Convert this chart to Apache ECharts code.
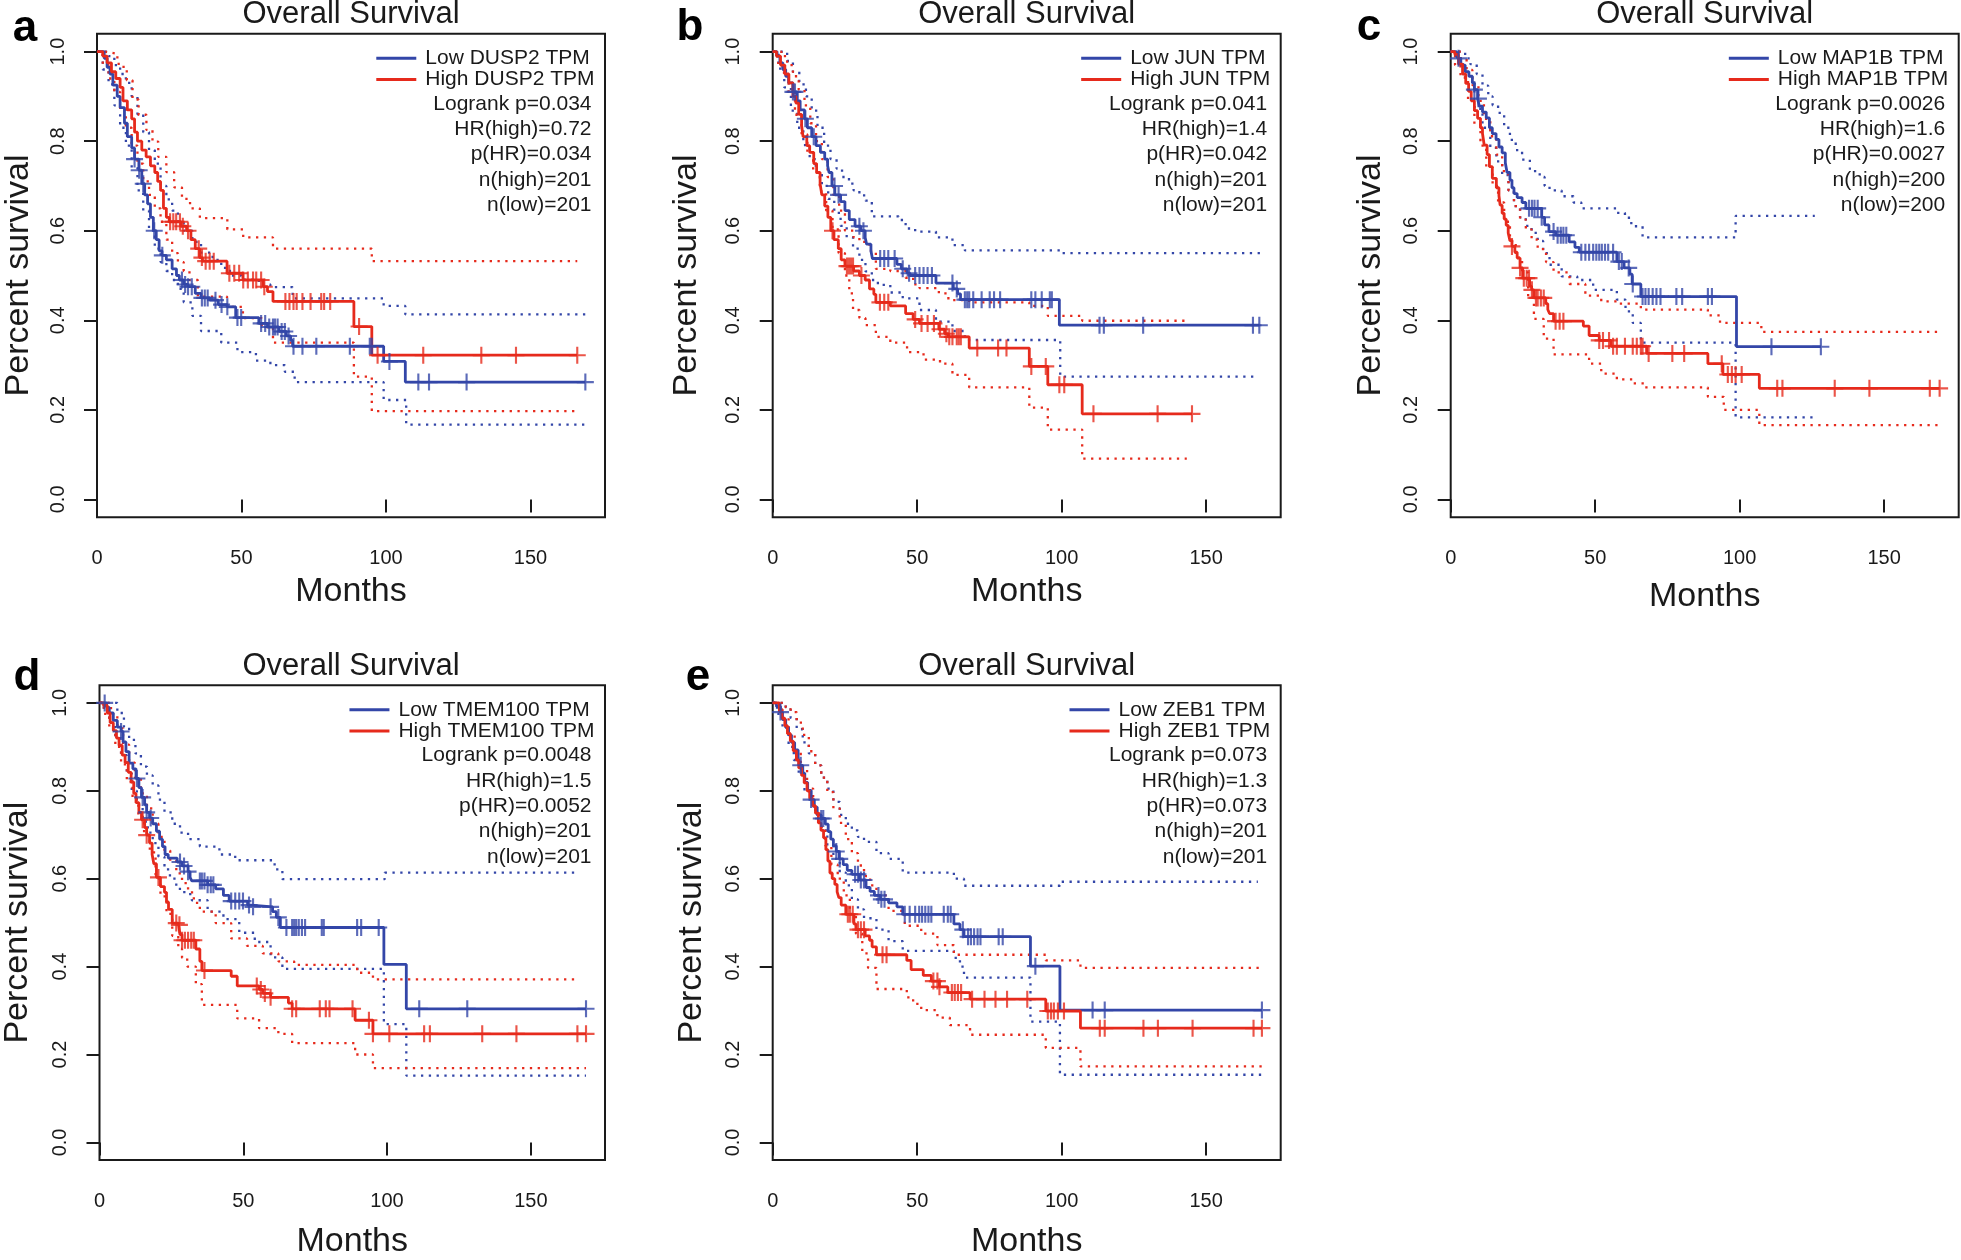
<!DOCTYPE html>
<html><head><meta charset="utf-8">
<script src="https://cdn.jsdelivr.net/npm/echarts@6/dist/echarts.min.js"></script>
<style>html,body{margin:0;padding:0;background:#fff}#c{width:1961px;height:1260px}</style>
</head><body><div id="c"></div><script>
// ---------------- DATA ----------------
const letters = ['a','b','c','d','e'];
const genes = ['DUSP2','JUN','MAP1B','TMEM100','ZEB1'];
const xTicks = [0,50,100,150];
const yTicks = [0,0.2,0.4,0.6,0.8,1.0];

const aStats = ['Logrank p=0.034','HR(high)=0.72','p(HR)=0.034','n(high)=201','n(low)=201'];
const bStats = ['Logrank p=0.041','HR(high)=1.4','p(HR)=0.042','n(high)=201','n(low)=201'];
const cStats = ['Logrank p=0.0026','HR(high)=1.6','p(HR)=0.0027','n(high)=200','n(low)=200'];
const dStats = ['Logrank p=0.0048','HR(high)=1.5','p(HR)=0.0052','n(high)=201','n(low)=201'];
const eStats = ['Logrank p=0.073','HR(high)=1.3','p(HR)=0.073','n(high)=201','n(low)=201'];

// Panel a  (DUSP2)
const aLow = [[0,1],[2.5,0.985],[3.5,0.965],[4.5,0.95],[5.5,0.925],[7,0.9],[8,0.875],[9.5,0.84],[10.5,0.81],[12,0.785],[13,0.76],[14.5,0.735],[15.5,0.705],[16.5,0.68],[17.5,0.66],[18.5,0.63],[19.5,0.6],[20.5,0.58],[21.5,0.555],[22.5,0.545],[24,0.535],[26,0.515],[27.5,0.5],[28.5,0.49],[30,0.48],[31.5,0.475],[34,0.46],[36,0.45],[39,0.445],[42,0.435],[45,0.43],[48,0.406],[56,0.393],[59,0.385],[63,0.375],[65.5,0.365],[67,0.355],[67.7,0.342],[99.2,0.308],[106.7,0.262],[169,0.262]];
const aHigh = [[0,1],[2,0.99],[3.5,0.975],[5,0.955],[6.5,0.94],[8,0.92],[9,0.89],[10.5,0.87],[12,0.85],[13,0.82],[14,0.8],[15.5,0.78],[17,0.765],[18.5,0.745],[20,0.73],[21,0.71],[22,0.69],[23,0.65],[24,0.63],[25,0.62],[29,0.61],[31,0.6],[32.5,0.58],[34,0.56],[35.5,0.54],[36.5,0.532],[45,0.505],[50.5,0.49],[57.5,0.475],[59,0.464],[60.9,0.442],[88.9,0.386],[95.1,0.322],[166.2,0.322]];
const aLowUp = [[0,1],[4,0.99],[6,0.97],[8,0.95],[10,0.93],[12,0.9],[14,0.86],[16,0.82],[18,0.78],[20,0.75],[22,0.7],[24,0.67],[26,0.645],[28,0.62],[30,0.6],[33,0.575],[36,0.551],[40,0.535],[43,0.517],[46,0.5],[50,0.491],[56,0.48],[60,0.474],[67.7,0.449],[99.2,0.432],[106.7,0.413],[169,0.413]];
const aLowLo = [[0,1],[2,0.96],[4,0.927],[6,0.88],[8,0.83],[10,0.79],[12,0.74],[14,0.69],[16,0.645],[18,0.6],[20,0.56],[22,0.53],[24,0.51],[26,0.49],[28,0.47],[30,0.44],[33,0.41],[36,0.376],[43,0.35],[48.6,0.329],[55,0.31],[60,0.3],[65,0.285],[68.4,0.262],[99.2,0.222],[107,0.167],[169,0.167]];
const aHighUp = [[0,1],[2.7,0.996],[6.2,0.987],[7.5,0.966],[10.3,0.936],[12.3,0.893],[14.4,0.859],[17.1,0.825],[19.2,0.799],[21.2,0.765],[24,0.731],[26.7,0.697],[29.4,0.671],[32.2,0.65],[35.6,0.628],[45.1,0.603],[50.6,0.585],[60.9,0.56],[95.1,0.532],[166.2,0.532]];
const aHighLo = [[0,1],[2,0.97],[4,0.94],[6,0.91],[8,0.87],[10,0.83],[12,0.79],[14,0.75],[16,0.71],[18,0.68],[20,0.65],[22,0.62],[24,0.58],[26,0.55],[28,0.53],[30,0.51],[32,0.49],[34.9,0.453],[45,0.43],[50.5,0.405],[57,0.385],[60.9,0.35],[88.9,0.274],[95.1,0.197],[166.2,0.197]];
const aLowCens = [13,14.6,16,19.8,22.6,29.4,30.5,31.5,32.8,36.3,37.3,38.3,41,43.1,45.1,48.6,49.9,56.8,58.2,59.6,60.9,61.6,62.5,63.9,65,66.3,68,71.1,75.9,87.5,94.4,95.1,101.2,111.2,114.9,127.9,169];
const aHighCens = [25.3,26.4,27.4,28.7,29.7,31.5,35.2,36.3,37.6,39,40.4,45.8,47.5,49.2,50.6,52.2,54,55.1,56.8,57.9,65.2,66.6,68,69.1,71.1,73.9,77.6,78.6,80.7,90.7,97.1,112.9,133,145,166.2];

// Panel b  (JUN)
const bLow = [[0,1],[1.5,0.99],[2.5,0.975],[3.5,0.96],[4.5,0.945],[5.5,0.93],[7,0.91],[8.5,0.89],[9.5,0.87],[11,0.85],[12,0.83],[13.5,0.81],[15,0.79],[16.5,0.775],[18,0.76],[19,0.745],[19.5,0.73],[20.5,0.7],[21.5,0.68],[23.5,0.665],[25,0.645],[26.5,0.625],[28.5,0.61],[30.5,0.6],[32,0.585],[32.5,0.57],[34,0.555],[34.5,0.538],[43,0.525],[44.5,0.515],[46.5,0.505],[47.5,0.5],[56.5,0.483],[62.5,0.47],[64,0.459],[65,0.446],[99.2,0.389],[168.4,0.389]];
const bHigh = [[0,1],[1.3,0.99],[2.7,0.97],[4.2,0.95],[5.6,0.93],[7,0.9],[8,0.885],[9,0.86],[10,0.835],[10.5,0.81],[11.8,0.79],[12.8,0.775],[14.2,0.75],[15.2,0.73],[16.4,0.705],[17,0.68],[18,0.655],[19.1,0.63],[20.1,0.6],[21.2,0.58],[22.7,0.56],[23.7,0.535],[25,0.521],[28,0.51],[30,0.5],[32,0.49],[33.5,0.47],[35,0.458],[35.7,0.44],[40.7,0.432],[46,0.415],[48.6,0.402],[50.8,0.393],[57.5,0.38],[59.5,0.37],[60.8,0.363],[68,0.338],[88.8,0.297],[95.2,0.256],[107.1,0.191],[145.1,0.191]];
const bLowUp = [[0,1],[2,1.0],[5,0.979],[7,0.955],[9.2,0.927],[11.5,0.9],[13.5,0.868],[15.5,0.83],[17.8,0.79],[20,0.76],[22.1,0.739],[24,0.72],[26.4,0.705],[28,0.69],[30,0.679],[32.1,0.667],[34.3,0.632],[43.6,0.624],[46,0.605],[49.3,0.598],[56.5,0.585],[62.2,0.568],[66.5,0.556],[99.5,0.55],[169.1,0.55]];
const bLowLo = [[0,1],[2,0.962],[4,0.92],[6.3,0.868],[8.5,0.83],[10.6,0.791],[12.8,0.76],[14.9,0.731],[17,0.7],[19.2,0.671],[21.3,0.64],[23.5,0.611],[25.6,0.585],[27.8,0.56],[30,0.535],[32.1,0.509],[34.3,0.49],[36.4,0.479],[40.7,0.462],[45,0.449],[50.8,0.423],[56.5,0.397],[62.2,0.376],[66.5,0.356],[99.5,0.274],[166.9,0.274]];
const bHighUp = [[0,1],[1.5,1.0],[3,0.99],[5,0.97],[7,0.945],[9,0.915],[11,0.88],[13,0.84],[15,0.8],[17,0.76],[19,0.72],[21,0.68],[23,0.645],[25,0.6],[28,0.585],[30,0.575],[33.5,0.555],[35.7,0.515],[40.7,0.51],[46,0.495],[48.6,0.48],[50.8,0.472],[57.5,0.46],[60.8,0.445],[68,0.44],[88.8,0.432],[95.2,0.41],[107.1,0.399],[143.3,0.399]];
const bHighLo = [[0,1],[1.5,0.975],[3.4,0.953],[5.5,0.91],[7.7,0.859],[10,0.815],[12,0.774],[14,0.73],[16.3,0.688],[18.5,0.645],[20.7,0.603],[22.8,0.55],[25,0.5],[26.5,0.46],[27.8,0.423],[30,0.405],[32.1,0.389],[35.7,0.363],[40.7,0.35],[46.5,0.329],[52.2,0.312],[57.9,0.303],[62.2,0.278],[68,0.25],[88.8,0.205],[95.2,0.156],[107.1,0.091],[143.3,0.091]];
const bLowCens = [7,7.7,11.3,14.2,21.4,22.8,30,31.4,37.2,38.6,40,42.2,45,47.2,49.3,50.8,52.2,53.6,55.1,62.2,63.7,66.5,67.3,68,69.4,72.3,75.1,76.6,78.7,89.5,90.9,93.1,95.9,96.6,113.1,114.6,128.2,166.2,168.4];
const bHighCens = [20.7,25.7,26.4,27.1,27.8,30.7,37.1,38.6,40,49.3,51.5,53.6,55.8,57.9,60.1,61.1,62.2,63.7,64.4,65.1,70.8,78,80.9,89.5,94.5,99.2,100.9,111,133.2,145.1];

// Panel c  (MAP1B)
const cLow = [[0,1],[2,0.99],[2.5,0.985],[3.5,0.97],[5,0.955],[6.3,0.945],[7.5,0.93],[8.2,0.915],[9.3,0.895],[9.9,0.878],[11,0.865],[12.3,0.852],[13.4,0.83],[14.4,0.817],[15.7,0.804],[16.7,0.787],[17.8,0.774],[18.9,0.752],[19.5,0.73],[20.5,0.713],[21.2,0.696],[21.9,0.683],[23,0.674],[24.7,0.663],[26,0.65],[31.5,0.63],[32.5,0.613],[34,0.598],[36.3,0.59],[41,0.575],[43,0.563],[44.5,0.552],[57.5,0.531],[60,0.517],[62,0.503],[62.8,0.481],[65.8,0.453],[98.9,0.341],[128.1,0.341]];
const cHigh = [[0,1],[1.4,0.994],[2.7,0.972],[4.1,0.95],[5.2,0.929],[6.2,0.911],[7.1,0.89],[8.2,0.868],[9.3,0.851],[10.3,0.83],[11,0.817],[11.6,0.791],[12.6,0.77],[13.4,0.743],[14.4,0.717],[15.8,0.696],[16.7,0.678],[17.1,0.657],[17.8,0.639],[18.5,0.626],[19.2,0.612],[19.9,0.595],[20.5,0.578],[21.2,0.565],[22.2,0.552],[23,0.539],[24,0.517],[24.9,0.494],[27.3,0.476],[28,0.468],[28.8,0.45],[32.9,0.437],[33.6,0.424],[34.2,0.415],[35.6,0.398],[45.9,0.387],[47.9,0.366],[51.4,0.355],[55.5,0.342],[67.8,0.326],[89,0.303],[94.2,0.279],[106.8,0.248],[169.2,0.248]];
const cLowUp = [[0,1],[3,1.0],[5,0.985],[6.8,0.972],[9,0.95],[11,0.924],[13,0.9],[14.5,0.88],[16.4,0.863],[18.5,0.83],[20.5,0.803],[22.5,0.78],[24.7,0.759],[27.4,0.733],[30.8,0.72],[32.5,0.7],[34.2,0.69],[38.4,0.677],[42.5,0.663],[45.2,0.65],[57.5,0.64],[60.3,0.629],[62.5,0.61],[66.4,0.585],[98.6,0.633],[126,0.633]];
const cLowLo = [[0,1],[2.7,0.972],[5,0.93],[8.2,0.872],[11,0.83],[13.7,0.785],[15.8,0.755],[17.8,0.724],[20,0.69],[21.9,0.655],[24,0.63],[26,0.611],[28,0.595],[30.1,0.577],[32,0.55],[34.2,0.524],[38.4,0.498],[43.8,0.49],[49.3,0.468],[57.5,0.446],[60.5,0.42],[63,0.394],[65.8,0.35],[98.6,0.183],[126,0.183]];
const cHighUp = [[0,1],[2,1.0],[3.5,0.985],[5.5,0.959],[7.5,0.925],[9.6,0.89],[11.5,0.85],[13.7,0.811],[15.8,0.77],[17.8,0.733],[20,0.69],[21.9,0.655],[24,0.625],[26,0.603],[28,0.58],[30.1,0.559],[33,0.53],[35.6,0.507],[41.1,0.481],[46.6,0.455],[52.1,0.442],[57.5,0.437],[65.8,0.424],[89,0.411],[93.2,0.394],[107.5,0.374],[168.5,0.374]];
const cHighLo = [[0,1],[1.5,0.97],[3.4,0.942],[6,0.89],[8.2,0.837],[10.3,0.79],[12.3,0.742],[14.5,0.7],[16.4,0.663],[18.5,0.62],[20.5,0.577],[22.5,0.54],[24.7,0.507],[26.8,0.45],[28.8,0.403],[32.2,0.359],[35.6,0.324],[47.9,0.303],[52.1,0.281],[57.5,0.268],[63,0.259],[67.1,0.25],[89,0.229],[94.5,0.2],[106.8,0.166],[168.5,0.166]];
const cLowCens = [2.7,8.2,9.6,27.1,28.1,29,30.1,31.5,35.6,37,38.1,39,40,45.2,46.6,47.9,49.3,50.4,51.4,52.3,53.4,54.5,56.2,58.2,59.2,61.6,63,66.4,67.4,68.5,69.9,71.2,72.6,78.1,80.1,89,90.4,111,128.1];
const cHighCens = [21.2,24,25.3,26.3,27.1,28.1,29.5,30.1,31.2,32.2,36.3,37.7,39,51.4,52.7,54.8,56.2,57.5,60.3,63,64.4,65.8,66.4,68.5,76.7,80.8,93.8,95.9,97.3,98.6,100.7,113,114.8,132.9,144.9,165.8,169.2];

// Panel d  (TMEM100)
const dLow = [[0,1],[2.5,0.99],[3.4,0.977],[4.8,0.96],[6.2,0.945],[7.5,0.935],[8.2,0.911],[9.2,0.889],[10.3,0.863],[11.6,0.85],[12.7,0.828],[13.7,0.807],[14.6,0.785],[15.7,0.768],[16.4,0.751],[17.4,0.738],[18.5,0.725],[19.8,0.708],[20.9,0.69],[21.9,0.673],[22.8,0.655],[23.9,0.647],[27,0.638],[28.7,0.629],[30.8,0.616],[31.5,0.603],[32.1,0.595],[37.6,0.586],[40.4,0.577],[43.1,0.562],[45.1,0.549],[51.5,0.54],[52.7,0.536],[60.2,0.525],[61.5,0.512],[62.9,0.489],[98.9,0.405],[106.7,0.304],[169.2,0.304]];
const dHigh = [[0,1],[1.4,0.994],[2.7,0.977],[3.7,0.955],[4.8,0.937],[5.9,0.92],[6.8,0.903],[7.9,0.881],[8.9,0.864],[10,0.842],[11,0.82],[11.9,0.794],[12.7,0.773],[13.7,0.751],[14.6,0.734],[15.7,0.716],[16.4,0.699],[17.4,0.681],[18.3,0.655],[18.9,0.634],[19.8,0.603],[21.2,0.582],[22.6,0.569],[23.3,0.547],[24,0.53],[25.3,0.499],[27.4,0.495],[28,0.473],[28.7,0.46],[33.5,0.44],[34.9,0.412],[35.6,0.391],[45.8,0.378],[47.9,0.356],[55.5,0.348],[56.8,0.339],[59.5,0.33],[65.7,0.317],[67,0.304],[88.9,0.278],[95.1,0.247],[169.2,0.247]];
const dLowUp = [[0,1],[3,1.0],[6.2,0.977],[8.5,0.945],[10.3,0.916],[12.5,0.885],[14.4,0.855],[16.5,0.835],[18.5,0.812],[20.5,0.78],[22.6,0.751],[25.3,0.725],[28,0.705],[30.8,0.69],[34.9,0.673],[41.7,0.655],[47.2,0.642],[60.9,0.621],[63.6,0.599],[99.2,0.614],[166.9,0.614]];
const dLowLo = [[0,1],[1.5,0.98],[3.4,0.955],[5.5,0.92],[7.5,0.881],[9.5,0.84],[11.2,0.8],[13,0.768],[15,0.73],[16.8,0.705],[18.5,0.681],[20.5,0.65],[22.6,0.621],[24.5,0.6],[26.7,0.577],[29.5,0.565],[32.1,0.551],[37.6,0.525],[43.1,0.508],[48.6,0.477],[54,0.456],[59.5,0.421],[63.6,0.395],[98.9,0.269],[106.7,0.152],[169.2,0.152]];
const dHighUp = [[0,1],[2,1.0],[4,0.975],[6.2,0.942],[8.2,0.905],[10.3,0.864],[12.3,0.83],[14.4,0.794],[16.5,0.76],[18.5,0.725],[20.5,0.695],[22.6,0.664],[24.6,0.64],[26.7,0.612],[28.7,0.59],[30.8,0.569],[32.8,0.545],[34.9,0.525],[40.4,0.499],[45.8,0.464],[51.3,0.447],[56.8,0.43],[62.2,0.412],[67.7,0.404],[89.6,0.386],[95.1,0.371],[166.9,0.371]];
const dHighLo = [[0,1],[1.5,0.975],[3.4,0.94],[5.5,0.9],[7.5,0.86],[9.5,0.82],[11.5,0.78],[13.5,0.74],[15.5,0.7],[17.5,0.66],[19.5,0.6],[21.2,0.56],[23.3,0.52],[25.3,0.47],[27.4,0.44],[28.7,0.42],[30.5,0.4],[33.5,0.36],[35.6,0.313],[47.9,0.282],[55.5,0.26],[62.2,0.247],[67,0.226],[88.9,0.2],[95.1,0.169],[169.2,0.169]];
const dLowCens = [1.8,7.5,13,15,16.4,17.8,28,29.4,30.8,34.9,35.6,36.5,37.6,38.7,39.6,45.8,47.2,48.6,49.9,52,53.4,59.5,62.2,65,67,67.7,68.4,69.3,70.4,71.5,77.3,78,89.6,91,97.1,111.2,127.9,169.2];
const dHighCens = [15,16.4,20.5,26.7,27.8,28.7,29.7,30.8,31.9,32.8,36.5,54.7,56.1,57.5,59.5,67,68.4,76.6,78.7,80,88,93.7,95.1,100.8,112.9,114.9,133.1,145,166.2,169.2];

// Panel e  (ZEB1)
const eLow = [[0,1],[1.3,0.992],[2.7,0.979],[3.4,0.962],[4.5,0.944],[5.5,0.927],[6.5,0.91],[7.6,0.893],[8.8,0.875],[9.3,0.858],[10.4,0.84],[11.1,0.819],[12.1,0.801],[13.3,0.78],[14.4,0.763],[15.4,0.745],[16.8,0.737],[18.2,0.724],[19.2,0.707],[20.1,0.69],[21,0.675],[22,0.662],[23,0.645],[24.4,0.632],[25.8,0.619],[27.4,0.61],[30,0.597],[32.3,0.58],[33.7,0.571],[35.2,0.562],[37.3,0.553],[40.1,0.545],[43,0.536],[45,0.519],[62.7,0.497],[64.8,0.484],[66.2,0.468],[89.2,0.401],[99.4,0.301],[169.3,0.301]];
const eHigh = [[0,1],[2.3,0.98],[3.2,0.965],[4.2,0.948],[5.1,0.93],[6.1,0.913],[7.1,0.891],[8.2,0.87],[9,0.852],[10,0.835],[10.9,0.818],[11.9,0.8],[12.8,0.783],[13.8,0.766],[14.8,0.749],[15.8,0.727],[16.7,0.71],[17.6,0.693],[18.4,0.666],[19.1,0.64],[19.8,0.613],[20.6,0.6],[21.5,0.587],[22.3,0.57],[22.9,0.557],[23.7,0.54],[25.3,0.519],[28.1,0.497],[28.8,0.484],[32,0.47],[33.5,0.46],[34.4,0.445],[35.9,0.427],[46.4,0.414],[47.9,0.393],[52.1,0.38],[54.9,0.367],[57.7,0.354],[60.6,0.341],[68.3,0.326],[94.5,0.299],[106.5,0.26],[169.3,0.26]];
const eLowUp = [[0,1],[3,1.0],[4.5,0.985],[6.2,0.966],[8.3,0.94],[10.4,0.91],[12.5,0.885],[14.7,0.858],[16.8,0.83],[18.9,0.805],[21,0.775],[23.2,0.745],[25.3,0.725],[27.4,0.71],[29.5,0.695],[31.6,0.684],[35.9,0.658],[40.1,0.645],[45,0.614],[62.7,0.6],[66.2,0.584],[99.4,0.593],[167.9,0.593]];
const eLowLo = [[0,1],[1.5,0.975],[3.4,0.944],[5.5,0.9],[7.3,0.87],[9,0.84],[11,0.8],[12.8,0.77],[14.7,0.745],[16.8,0.71],[18.9,0.675],[21,0.645],[23.2,0.614],[25.3,0.585],[27.4,0.553],[29.5,0.53],[31.6,0.51],[35.9,0.484],[40.1,0.458],[45,0.436],[62.7,0.42],[64.8,0.4],[66.2,0.375],[89.2,0.275],[99.4,0.154],[169.3,0.154]];
const eHighUp = [[0,1],[3,1.0],[4.5,0.99],[6.2,0.979],[8.3,0.955],[10.4,0.927],[12.5,0.89],[14.7,0.858],[16.8,0.83],[18.9,0.797],[21,0.76],[23.2,0.727],[25.3,0.69],[27.4,0.658],[29.5,0.63],[31.6,0.606],[33.7,0.585],[35.9,0.562],[40.1,0.527],[45.7,0.493],[51.4,0.475],[57,0.449],[62.7,0.427],[94.5,0.414],[106.5,0.397],[168.6,0.397]];
const eHighLo = [[0,1],[2.3,0.985],[3.4,0.966],[5.5,0.93],[7.6,0.892],[9.7,0.85],[11.9,0.805],[14,0.76],[16.1,0.718],[18.2,0.675],[20.3,0.632],[22.5,0.6],[24.6,0.562],[26.7,0.52],[28.8,0.475],[31,0.43],[33,0.397],[35.9,0.349],[46.4,0.33],[48.6,0.315],[51.4,0.301],[57,0.284],[61.3,0.267],[68.3,0.245],[94.5,0.215],[106.5,0.173],[169.3,0.173]];
const eLowCens = [2.7,9.7,13.3,16.8,17.5,22,23.2,28.5,29.5,30.5,31.6,36.6,37.6,38.7,45.7,47.4,49.3,50.7,51.7,52.8,53.9,54.9,59.2,60.6,61.6,65.8,67.6,68.6,69.7,70.9,71.9,78.2,79.6,90.9,110.7,114.9,169.3];
const eHighCens = [26,26.7,27.7,29.5,30.5,31.6,38,39.4,55.6,57,57.7,62,63,64.1,65.2,69,73.3,77.1,81.1,88.1,95.2,96.3,97.3,98.7,100.8,113.2,114.9,128.3,133.3,145.3,166.4,169.3];

// ---------------- BUILD ----------------
const FONT = "'Liberation Sans', Arial, Helvetica, sans-serif";
const BLUE = '#3346a8', RED = '#e62a1c', INK = '#1a1a1a';
const W = 508, H = 483.6;
const boxes = [[97,33.7],[772.7,33.7],[1450.7,33.7],[97,685.3],[772.7,685.3]];
const xNameGap = [57.5,57.5,62.5,65,65];
const yNameGap = [61.5,69,63.5,64.5,64];
const letterX = [25,690,1369,27,698];
const letterY = [29,28,28,678,678];

const sets = [
  {low:aLow, high:aHigh, lowUp:aLowUp, lowLo:aLowLo, highUp:aHighUp, highLo:aHighLo, lowC:aLowCens, highC:aHighCens, stats:aStats},
  {low:bLow, high:bHigh, lowUp:bLowUp, lowLo:bLowLo, highUp:bHighUp, highLo:bHighLo, lowC:bLowCens, highC:bHighCens, stats:bStats},
  {low:cLow, high:cHigh, lowUp:cLowUp, lowLo:cLowLo, highUp:cHighUp, highLo:cHighLo, lowC:cLowCens, highC:cHighCens, stats:cStats},
  {low:dLow, high:dHigh, lowUp:dLowUp, lowLo:dLowLo, highUp:dHighUp, highLo:dHighLo, lowC:dLowCens, highC:dHighCens, stats:dStats},
  {low:eLow, high:eHigh, lowUp:eLowUp, lowLo:eLowLo, highUp:eHighUp, highLo:eHighLo, lowC:eLowCens, highC:eHighCens, stats:eStats}
];

function stepAt(curve, t){ let s = curve[0][1]; for (const p of curve){ if (p[0] <= t) s = p[1]; else break; } return s; }
const plus = 'path://M7,0L9,0L9,7L16,7L16,9L9,9L9,16L7,16L7,9L0,9L0,7L7,7Z';

const grid = [], xAxis = [], yAxis = [], series = [], legend = [], graphic = [];
sets.forEach((d, i) => {
  const [L, T] = boxes[i];
  const gene = genes[i];
  const lowName = 'Low ' + gene + ' TPM', highName = 'High ' + gene + ' TPM';
  grid.push({left:L, top:T, width:W, height:H, show:true, borderColor:INK, borderWidth:2, backgroundColor:'transparent'});
  xAxis.push({type:'value', gridIndex:i, min:0, max:175.8,
    axisLine:{show:false}, splitLine:{show:false},
    axisTick:{show:true, length:13, lineStyle:{color:INK, width:2}, customValues:xTicks},
    axisLabel:{customValues:xTicks, fontSize:20, color:INK, fontFamily:FONT, margin:31},
    name:'Months', nameLocation:'middle', nameGap:xNameGap[i],
    nameTextStyle:{fontSize:34, color:INK, fontFamily:FONT}});
  yAxis.push({type:'value', gridIndex:i, min:-0.04, max:1.04,
    axisLine:{show:false}, splitLine:{show:false},
    axisTick:{show:true, length:13, lineStyle:{color:INK, width:2}, customValues:yTicks},
    axisLabel:{customValues:yTicks, fontSize:20, color:INK, fontFamily:FONT, margin:29, rotate:90,
      formatter:v => Number(v).toFixed(1)},
    name:'Percent survival', nameLocation:'middle', nameGap:yNameGap[i], nameRotate:90,
    nameTextStyle:{fontSize:34, color:INK, fontFamily:FONT}});
  const ci = (data, color) => ({type:'line', xAxisIndex:i, yAxisIndex:i, data, step:'end', symbol:'none', silent:true,
    lineStyle:{color, width:2.3, type:[2.3,5.5], cap:'butt'}, z:3, animation:false});
  series.push(ci(d.lowUp, BLUE), ci(d.lowLo, BLUE), ci(d.highUp, RED), ci(d.highLo, RED));
  series.push({type:'line', name:lowName, xAxisIndex:i, yAxisIndex:i, data:d.low, step:'end', symbol:'none',
    lineStyle:{color:BLUE, width:2.8}, itemStyle:{color:BLUE}, z:5, animation:false});
  series.push({type:'line', name:highName, xAxisIndex:i, yAxisIndex:i, data:d.high, step:'end', symbol:'none',
    lineStyle:{color:RED, width:2.8}, itemStyle:{color:RED}, z:6, animation:false});
  series.push({type:'scatter', xAxisIndex:i, yAxisIndex:i, data:d.lowC.map(t => [t, stepAt(d.low, t)]),
    symbol:plus, symbolSize:17, itemStyle:{color:BLUE}, z:7, silent:true, animation:false});
  series.push({type:'scatter', xAxisIndex:i, yAxisIndex:i, data:d.highC.map(t => [t, stepAt(d.high, t)]),
    symbol:plus, symbolSize:17, itemStyle:{color:RED}, z:8, silent:true, animation:false});
  legend.push({orient:'vertical', right:1961 - (L + W - 10.5), top:T + 14, padding:0,
    itemWidth:40, itemHeight:3, itemGap:0.3, selectedMode:false, align:'left',
    data:[{name:lowName, icon:'rect'}, {name:highName, icon:'rect'}],
    textStyle:{fontSize:21, color:INK, fontFamily:FONT, lineHeight:20, padding:[0,0,0,4]}});
  graphic.push({type:'text', x:L + W/2, y:T - 19, style:{text:'Overall Survival', fontSize:31, fontFamily:FONT, fill:INK,
    align:'center', verticalAlign:'middle', textAlign:'center', textVerticalAlign:'middle'}});
  graphic.push({type:'text', x:letterX[i], y:letterY[i], style:{text:letters[i], fontSize:44, fontWeight:'bold', fontFamily:FONT, fill:'#000',
    align:'center', verticalAlign:'middle', textAlign:'center', textVerticalAlign:'middle'}});
  d.stats.forEach((s, k) => {
    graphic.push({type:'text', x:L + W - 13.5, y:T + 70.4 + k*25.3, style:{text:s, fontSize:21, fontFamily:FONT, fill:INK,
      align:'right', verticalAlign:'middle', textAlign:'right', textVerticalAlign:'middle'}});
  });
});

const chart = echarts.init(document.getElementById('c'), null, {renderer:'canvas'});
chart.setOption({animation:false, backgroundColor:'#fff', grid, xAxis, yAxis, series, legend, graphic});
</script></body></html>
